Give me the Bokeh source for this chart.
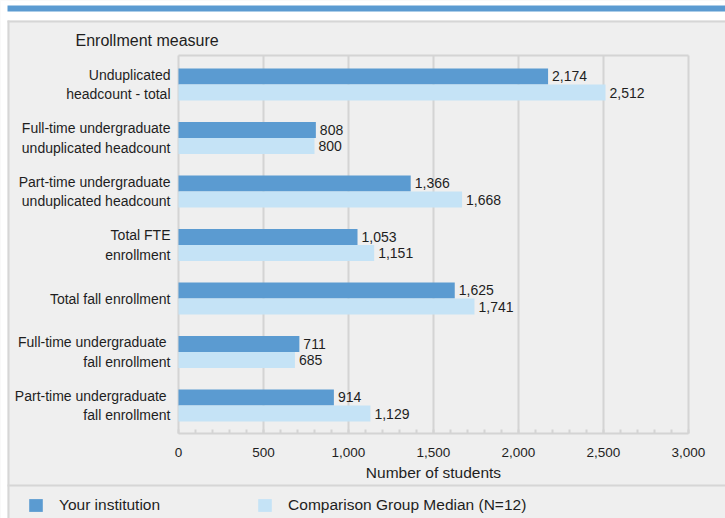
from bokeh.plotting import figure
from bokeh.models import (Range1d, SingleIntervalTicker, FixedTicker, NumeralTickFormatter,
                          LabelSet, ColumnDataSource, Label, BoxAnnotation, Legend, LegendItem)
from bokeh.core.properties import value
from bokeh.embed import file_html
from bokeh.resources import INLINE

# ---- data ----
categories = [
    "Unduplicated\nheadcount - total",
    "Full-time undergraduate\nunduplicated headcount",
    "Part-time undergraduate\nunduplicated headcount",
    "Total FTE\nenrollment",
    "Total fall enrollment",
    "Full-time undergraduate \nfall enrollment",
    "Part-time undergraduate \nfall enrollment",
]
institution = [2174, 808, 1366, 1053, 1625, 711, 914]
comparison = [2512, 800, 1668, 1151, 1741, 685, 1129]
series_names = ["Your institution", "Comparison Group Median (N=12)"]
x_ticks = [0, 500, 1000, 1500, 2000, 2500, 3000]
y_title = "Enrollment measure"
x_title = "Number of students"

# ---- style / layout ----
DARK = "#5b9bd1"
LIGHT = "#c5e3f6"
PANEL = "#efefef"
GRID = "#d4d4d4"
BORDER = "#d6d6d6"
TEXT = "#1e1e1e"
FONT = "Liberation Sans"

W, H = 725, 518
# pixel layout of the plotting area
PX_LEFT, PX_RIGHT = 178, 688          # x = 0 and x = 3000
PX_TOP, PX_BOTTOM = 55, 433           # frame top line / axis line
PX_FIRST, PX_STEP = 84, 53.5          # centre of first group, group pitch

x_min, x_max = x_ticks[0], x_ticks[-1]
sx = (PX_RIGHT - PX_LEFT) / (x_max - x_min)
X0 = x_min - PX_LEFT / sx
X1 = X0 + W / sx
Y0 = -PX_FIRST / PX_STEP
Y1 = Y0 + H / PX_STEP
y_top = Y0 + PX_TOP / PX_STEP
y_bot = Y0 + PX_BOTTOM / PX_STEP

pos = list(range(len(categories)))
bar_h = 0.3

src = ColumnDataSource(dict(
    pos_a=[p_ - bar_h / 2 for p_ in pos],
    pos_b=[p_ + bar_h / 2 for p_ in pos],
    inst=institution,
    comp=comparison,
    inst_txt=[f"{v:,}" for v in institution],
    comp_txt=[f"{v:,}" for v in comparison],
))

p = figure(width=W, height=H, output_backend="svg", toolbar_location=None,
           x_range=Range1d(X0, X1), y_range=Range1d(Y1, Y0),
           min_border=0)
p.title.visible = False
p.background_fill_color = PANEL
p.border_fill_color = PANEL
p.outline_line_color = None
p.xgrid.visible = False
p.ygrid.visible = False

# page decoration (canvas pixels)
def cbox(l, r, t, b, color, level="underlay"):
    p.add_layout(BoxAnnotation(left=l, right=r, top=t, bottom=b,
                               left_units="canvas", right_units="canvas",
                               top_units="canvas", bottom_units="canvas",
                               fill_color=color, fill_alpha=1, line_color=None, level=level))

cbox(0, W, 0, 20, "white")
cbox(0, 7, 0, H, "white")
cbox(7, W, 5, 11, DARK)
cbox(7, W, 20, 22, BORDER)
cbox(7, 9, 20, H, BORDER)
cbox(7, W, 484, 486, BORDER)

# grid lines and plot-area outline
p.segment(x0=x_ticks, x1=x_ticks, y0=[y_top] * len(x_ticks), y1=[y_bot] * len(x_ticks),
          line_color=GRID, line_width=2)
p.segment(x0=[x_min], x1=[x_max], y0=[y_top], y1=[y_top], line_color=GRID, line_width=2)

r1 = p.hbar(y="pos_a", right="inst", left=0, height=bar_h, source=src,
            fill_color=DARK, line_color=None)
r2 = p.hbar(y="pos_b", right="comp", left=0, height=bar_h, source=src,
            fill_color=LIGHT, line_color=None)

for col, ycol in (("inst", "pos_a"), ("comp", "pos_b")):
    p.add_layout(LabelSet(x=col, y=ycol, text=col + "_txt", source=src, x_offset=4,
                          text_baseline="middle", text_align="left",
                          text_font=value(FONT), text_font_size=value("14px"),
                          text_color=TEXT))

# x axis
xa = p.xaxis[0]
xa.fixed_location = y_bot
xa.bounds = (x_min, x_max)
xa.ticker = SingleIntervalTicker(interval=500, num_minor_ticks=5)
xa.formatter = NumeralTickFormatter(format="0,0")
xa.axis_line_color = GRID
xa.axis_line_width = 2
xa.major_tick_in = 0
xa.major_tick_out = 0
xa.minor_tick_in = 4
xa.minor_tick_out = 0
xa.minor_tick_line_color = GRID
xa.minor_tick_line_width = 2
xa.major_label_standoff = 14
xa.major_label_text_font = FONT
xa.major_label_text_font_size = "13.5px"
xa.major_label_text_color = TEXT
xa.axis_label = x_title
xa.axis_label_text_font = FONT
xa.axis_label_text_font_size = "15.5px"
xa.axis_label_text_font_style = "normal"
xa.axis_label_text_color = TEXT
xa.axis_label_standoff = 4

# y axis
ya = p.yaxis[0]
ya.fixed_location = x_min
ya.ticker = FixedTicker(ticks=pos)
ya.major_label_overrides = {i: c for i, c in zip(pos, categories)}
ya.axis_line_color = None
ya.major_tick_line_color = None
ya.minor_tick_line_color = None
ya.major_tick_in = 0
ya.major_tick_out = 0
ya.minor_tick_in = 0
ya.minor_tick_out = 0
ya.major_label_standoff = 8
ya.major_label_text_font = FONT
ya.major_label_text_font_size = "14px"
ya.major_label_text_color = TEXT

p.add_layout(Label(x=75, y=40, x_units="canvas", y_units="canvas", text=y_title,
                   text_baseline="middle", text_align="left", text_font=FONT,
                   text_font_size="16px", text_color=TEXT))

legend = Legend(items=[LegendItem(label=series_names[0], renderers=[r1]),
                       LegendItem(label=series_names[1], renderers=[r2])],
                orientation="horizontal", location=(27, 4),
                padding=0, margin=0, spacing=96, label_standoff=15,
                glyph_width=17, glyph_height=16, label_height=16,
                border_line_color=None, background_fill_alpha=0,
                label_text_font=FONT, label_text_font_size="15.5px", label_text_color=TEXT)
p.add_layout(legend)

open("out.html", "w").write(file_html(p, INLINE))
